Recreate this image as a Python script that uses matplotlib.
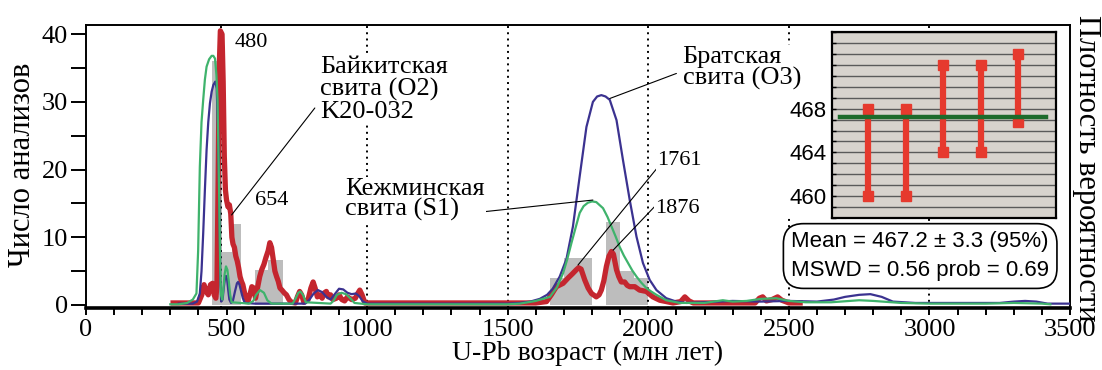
#!/usr/bin/env python3
"""
U-Pb detrital zircon age spectra with weighted-mean inset.
"""
import matplotlib.pyplot as plt
from matplotlib.patches import Rectangle
from matplotlib.ticker import MultipleLocator

plt.rcParams['font.family'] = ['Liberation Serif', 'DejaVu Serif']

# --- data ----------------------------------------------------------------
# histogram (Байкитская свита, K20-032)
bin_left = [450, 483, 518, 600, 648, 1650, 1700, 1750, 1850, 1900, 1950]
bin_right = [483, 518, 552, 648, 700, 1700, 1750, 1800, 1900, 1950, 2000]
bin_counts = [36, 7.8, 12, 5.1, 6.7, 4, 7, 7, 12.2, 5, 4]

# probability density curves (age Ma, scaled density)
red_age = [310, 400, 412, 420, 428, 435, 443, 450, 456, 462, 466, 470, 474, 478, 484, 488,
           492, 496, 500, 505, 510, 515, 519, 523, 528, 533, 538, 543, 548, 553, 558,
           564, 570, 576, 583, 590, 597, 603, 610, 618, 625, 633, 640, 648, 654, 660,
           666, 672, 678, 684, 690, 697, 705, 713, 722, 731, 745, 752, 760, 767, 775,
           790, 800, 808, 815, 823, 832, 840, 848, 855, 862, 870, 878, 891, 900, 910,
           920, 930, 945, 958, 968, 974, 982, 992, 1000, 1600, 1638, 1655, 1673, 1697,
           1715, 1730, 1744, 1752, 1761, 1774, 1786, 1798, 1815, 1825, 1833, 1842, 1851,
           1860, 1869, 1876, 1887, 1895, 1904, 1916, 1925, 1934, 1952, 1969, 1993, 2016,
           2041, 2088, 2115, 2130, 2145, 2160, 2380, 2395, 2407, 2420, 2440, 2460, 2475,
           2500, 2540]
red_val = [0.3, 0.3, 1.5, 3.0, 2.0, 1.5, 3.0, 3.2, 1.5, 1.0, 3, 18, 35, 40.5, 40, 33,
           22, 17, 15.5, 14.5, 14.8, 13.5, 10, 9.0, 8.5, 7.2, 6.5, 5.5, 4.2, 3.5, 3.0,
           1.8, 1.0, 0.5, 1.5, 2.7, 2.5, 1.0, 2.5, 4.2, 5.2, 6.0, 7.0, 8.0, 9.2, 8.5,
           6.8, 5.0, 4.2, 3.5, 2.5, 2.2, 1.8, 1.5, 0.8, 0.4, 0.3, 1.2, 2.0, 1.5, 0.4,
           0.8, 2.5, 3.4, 2.5, 1.2, 1.5, 1.0, 1.8, 2.0, 1.2, 1.5, 0.8, 1.0, 1.5, 0.8,
           0.6, 1.2, 0.8, 1.0, 1.8, 2.2, 1.5, 0.3, 0.3, 0.3, 0.5, 1.5, 2.7, 3.2,
           4.0, 4.6, 5.2, 5.5, 5.3, 3.7, 2.5, 1.7, 1.2, 1.5, 2.2, 3.6, 5.7,
           7.2, 7.9, 7.5, 5.2, 4.2, 3.4, 3.4, 2.9, 2.7, 2.7, 2.2, 2.0, 1.2,
           0.7, 0.3, 0.5, 1.2, 0.6, 0.3, 0.3, 1.0, 1.2, 0.6, 0.8, 1.2, 0.7,
           0.3, 0.3]

blue_age = [330, 380, 395, 405, 411, 417, 423, 429, 435, 441, 447, 453, 460, 465, 470, 473,
            476, 478, 481, 486, 490, 494, 498, 502, 506, 510, 516, 522, 530, 537, 541,
            546, 552, 558, 565, 600, 780, 795, 810, 825, 840, 855, 870, 885, 900, 915,
            930, 945, 960, 972, 985, 1000, 1500, 1543, 1580, 1614, 1640, 1660, 1685,
            1709, 1732, 1756, 1780, 1803, 1818, 1833, 1848, 1863, 1887, 1910, 1934,
            1958, 1981, 2005, 2029, 2064, 2100, 2135, 2200, 2300, 2400, 2500, 2600,
            2660, 2700, 2750, 2790, 2830, 2870, 2950, 3100, 3250, 3300, 3340, 3380,
            3420, 3500]
blue_val = [0.2, 0.2, 0.5, 1.7, 5, 10.6, 17, 22.9, 27, 29.8, 31.5, 32.5, 33, 32, 25.4, 18,
            10.6, 4, 0.5, 0.8, 2.5, 3.8, 4.3, 3.8, 2.2, 0.8, 0.3, 0.5, 2, 3.2, 3.4,
            3, 2, 1, 0.3, 0.2, 0.2, 0.8, 1.7, 2.2, 1.9, 1.2, 0.8, 1.6, 2.4, 2.3,
            1.8, 1.6, 1.7, 1.3, 0.5, 0.2, 0.2, 0.3, 0.5, 0.9, 1.5, 2.4, 4.2,
            6.8, 11.6, 19, 26.3, 30, 30.8, 31.0, 30.8, 30.3, 27.3, 21.4, 15.5,
            10.1, 6.2, 3.7, 2.2, 1.0, 0.5, 0.3, 0.4, 0.6, 0.5, 0.6, 0.5,
            0.8, 1.2, 1.5, 1.6, 1.2, 0.5, 0.3, 0.3, 0.3, 0.5, 0.6, 0.5,
            0.2, 0.2]

green_age = [300, 330, 360, 380, 393, 399, 405, 411, 417, 423, 429, 438, 447, 453, 459, 464,
             468, 471, 474, 477, 480, 485, 489, 493, 498, 503, 508, 513, 518, 580, 595,
             605, 619, 633, 645, 660, 735, 746, 755, 763, 772, 782, 870, 880, 893, 909,
             925, 940, 955, 1000, 1500, 1543, 1600, 1650, 1675, 1697, 1712, 1727, 1742,
             1756, 1770, 1785, 1800, 1815, 1839, 1855, 1869, 1884, 1898, 1913, 1928,
             1943, 1958, 1975, 1993, 2010, 2029, 2064, 2112, 2200, 2265, 2300, 2350,
             2400, 2455, 2500, 2560, 2650, 2750, 2800, 2900, 3000, 3200, 3300, 3400, 3430]
green_val = [0.1, 0.1, 0.3, 0.8, 1.7, 8, 20.4, 27, 30.3, 33.3, 35.2, 36.3, 36.8, 36.8, 36.4, 34,
             30.3, 23, 15.5, 7, 1.5, 0.8, 2.5, 4.5, 5.7, 5.2, 3.5, 1.5, 0.4, 0.2, 0.6,
             1.5, 2.2, 1.8, 0.7, 0.2, 0.2, 1.0, 1.8, 2.0, 1.5, 0.4, 0.2, 0.6, 1.5, 1.8,
             1.6, 1.0, 0.3, 0.1, 0.1, 0.2, 0.6, 1.2, 2.6, 4.7, 6.8, 9.2, 11.5,
             13.6, 14.6, 15.1, 15.3, 15.2, 14.3, 13.0, 11.6, 10.1, 8.6, 7.3, 6.2,
             5.1, 4.2, 3.3, 2.5, 2.0, 1.5, 0.7, 0.3, 0.3, 0.7, 0.5, 0.6,
             0.9, 1.0, 0.6, 0.4, 0.4, 0.7, 0.6, 0.3, 0.2, 0.2, 0.3, 0.2, 0.1]

ref_ages = [480, 1000, 1500, 2000, 2500, 3000]

# weighted mean inset
spot_idx = [1, 2, 3, 4, 5]
spot_lo = [460, 460, 464, 464, 466.8]
spot_hi = [468, 468, 472, 472, 473]
wmean = 467.2

RED = '#c4262f'
BLUE = '#3b3290'
GREEN = '#3fb36c'


def main() -> None:
    fig = plt.figure(figsize=(11.02, 3.70), dpi=100)
    ax = fig.add_axes([0.0780, 0.1684, 0.8930, 0.7648])

    widths = [r - l for l, r in zip(bin_left, bin_right)]
    ax.bar(bin_left, bin_counts, width=widths, align='edge', color='#bdbdbd', lw=0, zorder=1)
    for a in ref_ages:
        ax.axvline(a, color='black', ls=(0, (1, 2.2)), lw=1.4, zorder=1.5)

    ax.plot(red_age, red_val, color=RED, lw=3.8, zorder=2.5, solid_joinstyle='round')
    ax.plot(blue_age, blue_val, color=BLUE, lw=1.6, zorder=3)
    ax.plot(green_age, green_val, color=GREEN, lw=1.6, zorder=3.2)

    ax.set_xlim(0, 3500)
    ax.set_ylim(-0.4, 41.4)
    ax.xaxis.set_major_locator(MultipleLocator(500))
    ax.xaxis.set_minor_locator(MultipleLocator(100))
    ax.yaxis.set_major_locator(MultipleLocator(10))
    ax.yaxis.set_minor_locator(MultipleLocator(5))
    ax.tick_params(axis='y', which='both', direction='out', length=11, width=1.4,
                   labelsize=19, pad=2)
    ax.tick_params(axis='x', which='both', direction='out', length=5, width=1.4,
                   labelsize=19, pad=3)
    for s in ['left', 'top', 'right']:
        ax.spines[s].set_linewidth(1.4)
    ax.spines['bottom'].set_linewidth(2.6)

    fig.text(0.533, 0.045, 'U-Pb возраст (млн лет)', ha='center', va='center', fontsize=20)
    fig.text(0.020, 0.555, 'Число анализов', rotation=90, ha='center', va='center', fontsize=22)
    fig.text(0.986, 0.545, 'Плотность вероятности', rotation=270, ha='center', va='center',
             fontsize=22)

    # white panel behind inset
    ax.add_patch(Rectangle((0.7114, 0.4108), 0.2505, 0.4649, transform=fig.transFigure,
                           facecolor='white', edgecolor='none', zorder=5, clip_on=False))

    white = dict(facecolor='white', edgecolor='none', pad=1)
    line = dict(arrowstyle='-', color='black', lw=0.8, shrinkA=0, shrinkB=0)
    ax.text(530, 38.8, '480', fontsize=16, va='center', ha='left', zorder=7)
    ax.text(661, 15.4, '654', fontsize=16, va='center', ha='center', zorder=7)
    ax.text(832, 31.8, 'Байкитская\nсвита (O2)\nK20-032', fontsize=19, va='center',
            ha='left', linespacing=1.0, bbox=white, zorder=7)
    ax.annotate('', xy=(518, 13.3), xytext=(814, 29.1), arrowprops=line, zorder=6)
    ax.text(921, 15.6, 'Кежминская\nсвита (S1)', fontsize=19, va='center', ha='left',
            linespacing=0.85, bbox=white, zorder=7)
    ax.annotate('', xy=(1803, 15.5), xytext=(1376, 13.6), arrowprops=line, zorder=6)
    ax.text(2122, 35.0, 'Братская\nсвита (O3)', fontsize=19, va='center', ha='left',
            linespacing=0.9, bbox=white, zorder=7)
    ax.annotate('', xy=(1863, 30.5), xytext=(2100, 34.2), arrowprops=line, zorder=6)
    ax.text(2033, 21.4, '1761', fontsize=16, va='center', ha='left', bbox=white, zorder=7)
    ax.annotate('', xy=(1750, 5.9), xytext=(2035, 20.4), arrowprops=line, zorder=6)
    ax.text(2026, 14.3, '1876', fontsize=16, va='center', ha='left', bbox=white, zorder=7)
    ax.annotate('', xy=(1875, 8.1), xytext=(2040, 15.3), arrowprops=line, zorder=6)

    # inset: weighted mean
    ins = fig.add_axes([0.755, 0.411, 0.203, 0.502], facecolor='#d7d3cd')
    ins.set_xlim(0.04, 6.0)
    ins.set_ylim(458, 475)
    ins.set_yticks([460, 464, 468])
    ins.yaxis.set_minor_locator(MultipleLocator(1))
    ins.set_xticks([])
    ins.grid(axis='y', which='both', color='#5a5a5a', lw=1.0)
    ins.set_axisbelow(True)
    ins.tick_params(axis='y', which='both', direction='in', length=3, width=1, pad=4,
                    labelsize=16)
    for lab in ins.get_yticklabels():
        lab.set_family(['Liberation Sans', 'DejaVu Sans'])
    for s in ins.spines.values():
        s.set_linewidth(1.6)
    ins.vlines(spot_idx, spot_lo, spot_hi, color='#e63a2e', lw=4.5, zorder=3)
    ins.plot(spot_idx, spot_lo, 's', color='#e63a2e', ms=7, zorder=3)
    ins.plot(spot_idx, spot_hi, 's', color='#e63a2e', ms=7, zorder=3)
    ins.axhline(wmean, xmin=0.035, xmax=0.955, color='#1d6b2c', lw=3.2, zorder=4)

    fig.text(0.835, 0.308, 'Mean = 467.2 ± 3.3 (95%)\nMSWD = 0.56 prob = 0.69',
             ha='center', va='center', fontsize=16, linespacing=1.45,
             family=['Liberation Sans', 'DejaVu Sans'],
             bbox=dict(boxstyle='round,pad=0.35,rounding_size=0.9', facecolor='white',
                       edgecolor='black', lw=1.2))

    fig.savefig('out.png', dpi=100)
    plt.close(fig)


if __name__ == '__main__':
    main()
